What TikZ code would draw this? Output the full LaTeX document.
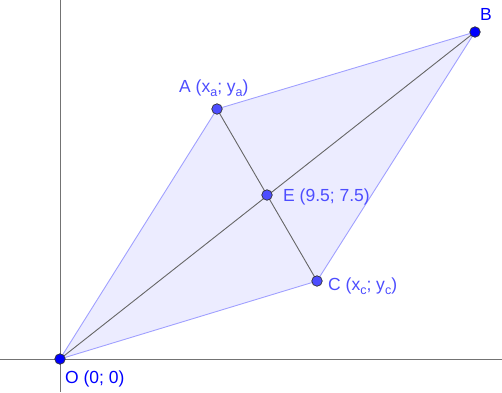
\documentclass[tikz,border=0pt]{standalone}
\usepackage{fontspec}
\setmainfont{Liberation Sans}
\definecolor{lightlbl}{RGB}{77,77,255}
\definecolor{darklbl}{RGB}{0,0,255}
\definecolor{polyedge}{RGB}{160,160,255}
\newcommand\lowsub[1]{\raisebox{-4.5pt}{\fontsize{12.5}{13}\selectfont #1}}
\begin{document}
\begin{tikzpicture}[x=1pt,y=-1pt,
  axis/.style={draw=black!55,line width=0.8pt},
  diag/.style={draw=black!60,line width=0.9pt},
  freept/.style={circle,fill=lightlbl,draw=black!80,line width=0.7pt,inner sep=0pt,minimum size=10.5pt},
  fixpt/.style={circle,fill=darklbl,draw=black!80,line width=0.7pt,inner sep=0pt,minimum size=10.5pt},
  lbl/.style={font=\fontsize{17.5}{19}\selectfont,inner sep=0pt,anchor=west},
]
\useasboundingbox (0,0) rectangle (502,392);
\coordinate (o) at (60,359);
\coordinate (a) at (217,109);
\coordinate (b) at (475,32);
\coordinate (c) at (317,281);
\coordinate (e) at (267,195);
% axes
\coordinate (xl) at (0,359); \coordinate (xr) at (502,359);
\coordinate (yt) at (60,0); \coordinate (yb) at (60,392);
\draw[axis] (xl) -- (xr);
\draw[axis] (yt) -- (yb);
% polygon
\fill[polyedge,fill opacity=0.2] (o) -- (a) -- (b) -- (c) -- cycle;
\draw[polyedge,line width=0.9pt] (o) -- (a) -- (b) -- (c) -- cycle;
% diagonals
\draw[diag] (o) -- (b);
\draw[diag] (a) -- (c);
% points
\node[fixpt] (O) at (o) {};
\node[fixpt] (B) at (b) {};
\node[freept] (A) at (a) {};
\node[freept] (C) at (c) {};
\node[freept] (E) at (e) {};
% labels
\node[lbl,text=lightlbl,anchor=base west] (LA) at (179,92) {A (x\lowsub{a}; y\lowsub{a})};
\node[lbl,text=lightlbl] (LE) at (283,197) {E (9.5; 7.5)};
\node[lbl,text=lightlbl,anchor=base west] (LC) at (328,290) {C (x\lowsub{c}; y\lowsub{c})};
\node[lbl,text=darklbl] (LO) at (65,379) {O (0; 0)};
\node[lbl,text=darklbl] (LB) at (480,14) {B};
\end{tikzpicture}
\end{document}
